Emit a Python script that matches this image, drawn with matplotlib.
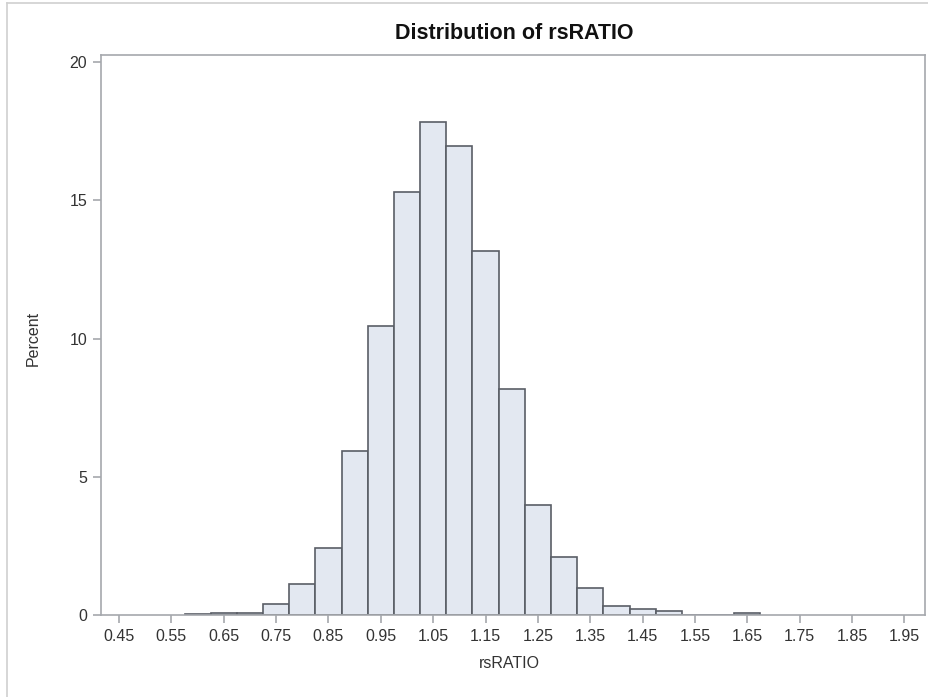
import matplotlib
matplotlib.use("Agg")
import matplotlib.pyplot as plt
from matplotlib.lines import Line2D

bin_centers = [0.60, 0.65, 0.70, 0.75, 0.80, 0.85, 0.90, 0.95, 1.00, 1.05,
               1.10, 1.15, 1.20, 1.25, 1.30, 1.35, 1.40, 1.45, 1.50, 1.55,
               1.60, 1.65]
percents = [0.05, 0.10, 0.10, 0.42, 1.14, 2.45, 5.92, 10.47, 15.30, 17.83,
            16.97, 13.18, 8.19, 4.00, 2.09, 1.00, 0.32, 0.22, 0.17, 0.0,
            0.0, 0.07]
bin_width = 0.05
xticks = [0.45, 0.55, 0.65, 0.75, 0.85, 0.95, 1.05, 1.15, 1.25, 1.35,
          1.45, 1.55, 1.65, 1.75, 1.85, 1.95]
yticks = [0, 5, 10, 15, 20]

plt.rcParams['font.family'] = ['Liberation Sans', 'DejaVu Sans']

fig = plt.figure(figsize=(9.29, 6.97), dpi=100)
ax = fig.add_axes([101/929, 1-615.3/697, (925.3-101)/929, (615.3-55)/697])

ax.bar(bin_centers, percents, width=bin_width, color='#e3e8f1',
       edgecolor='#5a5e66', linewidth=1.2, zorder=2)

ax.set_xlim(0.4155, 1.990)
ax.set_ylim(0, 20.25)
ax.set_xticks(xticks)
ax.set_xticklabels([f"{t:.2f}" for t in xticks])
ax.set_yticks(yticks)

axis_col = '#a5a8ad'
for s in ax.spines.values():
    s.set_color(axis_col)
    s.set_linewidth(1.2)
ax.tick_params(axis='both', colors=axis_col, labelcolor='#333333',
               labelsize=11.5, length=6, width=1.2, pad=4)

ax.set_xlabel('rsRATIO', fontsize=11.5, color='#333333')
ax.xaxis.set_label_coords(0.496, -0.0727)
ax.set_ylabel('Percent', fontsize=11.5, color='#333333')
ax.yaxis.set_label_coords(-0.073, 0.495)
fig.text(514/929, 1-33.5/697, 'Distribution of rsRATIO', ha='center', va='center',
         fontsize=15.5, fontweight='bold', color='#111111')

# outer frame (top and left)
fig.add_artist(Line2D([7/929, 7/929], [0, 1-2.5/697], transform=fig.transFigure,
                      color='#d0d0d0', linewidth=1.2))
fig.add_artist(Line2D([7/929, 1], [1-2.5/697, 1-2.5/697], transform=fig.transFigure,
                      color='#d0d0d0', linewidth=1.2))

fig.savefig('out.png', dpi=100)
